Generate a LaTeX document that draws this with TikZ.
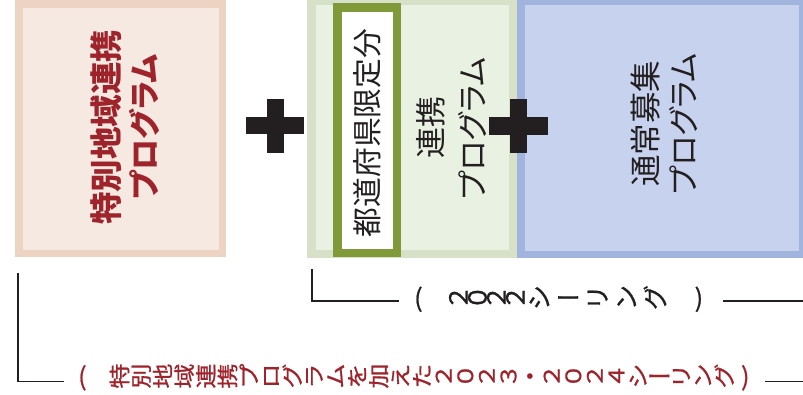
\documentclass[tikz,border=0pt]{standalone}
\usepackage{fontspec}
\usepackage{graphicx}
\newfontfamily\jp{Noto Sans CJK JP}
\newfontfamily\jpp{Noto Sans CJK JP}[RawFeature=+palt]
\newfontfamily\jpl{Noto Sans CJK JP}[FakeBold=0.8]
\definecolor{tanB}{RGB}{237,211,194}
\definecolor{tanF}{RGB}{246,233,225}
\definecolor{grnB}{RGB}{214,225,199}
\definecolor{grnF}{RGB}{233,241,226}
\definecolor{oliv}{RGB}{128,154,58}
\definecolor{bluB}{RGB}{160,180,222}
\definecolor{bluF}{RGB}{199,211,238}
\definecolor{ink}{RGB}{35,31,32}
\definecolor{dred}{RGB}{158,35,43}
% rotated character cell: [xscale]{advance}{char}
\newcommand\rc[3][1]{\makebox[#2]{\scalebox{#1}[1]{\rotatebox[origin=c]{90}{\makebox[1em]{\rule[-0.12em]{0pt}{1em}\smash{#3}}}}}}
\newcommand\rr[1]{\rc[0.85]{21.6pt}{#1}}
\begin{document}
\begin{tikzpicture}[x=1pt,y=-1pt,
  vtext/.style={rotate=90, inner sep=0pt, text=ink},
  conn/.style={draw=ink, line width=1.4pt},
  plusbar/.style={fill=ink}]
\useasboundingbox (0,0) rectangle (803,394);
% boxes
\draw[draw=tanB, fill=tanF, line width=7.5pt] (18.75,3.75) rectangle (222.25,253.25);
\draw[draw=grnB, fill=grnF, line width=8.5pt] (311.25,0.75) rectangle (512.75,253.75);
\draw[draw=oliv, fill=white, line width=8.5pt] (337.25,7.25) rectangle (396.75,252.75);
\draw[draw=bluB, fill=bluF, line width=7.5pt] (520.75,1.25) rectangle (802.25,254.25);
% plus signs
\fill[plusbar] (246,117) rectangle (304,134);
\fill[plusbar] (267,99) rectangle (284,153);
\fill[plusbar] (489,117) rectangle (548,135);
\fill[plusbar] (510,99) rectangle (527,153);
% box texts
\node[vtext, text=dred, font=\jp\bfseries\fontsize{32.5}{38}\selectfont] (t1a) at (106,127) {特別地域連携};
\node[vtext, text=dred, font=\jpp\bfseries\fontsize{31}{37}\selectfont] (t1b) at (144,127) {プログラム};
\node[vtext, font=\jp\fontsize{29.8}{35}\selectfont] (t2a) at (367,133) {都道府県限定分};
\node[vtext, font=\jp\fontsize{31}{37}\selectfont] (t2b) at (431,127.5) {連携};
\node[vtext, font=\jpp\fontsize{31}{37}\selectfont] (t2c) at (473,128.5) {プログラム};
\node[vtext, font=\jp\fontsize{31.5}{37}\selectfont] (t3a) at (646,123.5) {通常募集};
\node[vtext, font=\jpp\fontsize{31}{37}\selectfont] (t3b) at (684,124) {プログラム};
% bottom labels
\node[anchor=west, inner sep=0pt, text=ink, font=\jpl\fontsize{25}{29}\selectfont] (lab1) at (414,298.5)
 {(\hspace{26pt}\rc{19pt}{２}\rc{19pt}{０}\rc{19pt}{２}\rc{19pt}{２}\rc{29pt}{シ}\makebox[29pt]{ー}\rc{29pt}{リ}\rc{29pt}{ン}\rc{29pt}{グ}\hspace{25pt})};
\node[anchor=west, inner sep=0pt, text=dred, font=\jpl\fontsize{25}{29}\selectfont] (lab2) at (78,377)
 {(\hspace{22pt}\rr{特}\rr{別}\rr{地}\rr{域}\rr{連}\rr{携}\rr{プ}\rr{ロ}\rr{グ}\rr{ラ}\rr{ム}\rr{を}\rr{加}\rr{え}\rr{た}\rr{２}\rr{０}\rr{２}\rr{３}\makebox[21.6pt]{・}\rr{２}\rr{０}\rr{２}\rr{４}\rr{シ}\makebox[21.6pt]{ー}\rr{リ}\rr{ン}\rr{グ}\hspace{6pt})};
% bracket connectors
\coordinate (c1a) at (312,269);
\coordinate (c1b) at (399,301);
\coordinate (c1c) at (723,301);
\coordinate (c1d) at (803,301);
\coordinate (c2a) at (18,273);
\coordinate (c2b) at (64,381.5);
\coordinate (c2c) at (765,381.5);
\coordinate (c2d) at (803,381.5);
\draw[conn] (c1a) |- (c1b);
\draw[conn] (c1c) -- (c1d);
\draw[conn] (c2a) |- (c2b);
\draw[conn] (c2c) -- (c2d);
\end{tikzpicture}
\end{document}
